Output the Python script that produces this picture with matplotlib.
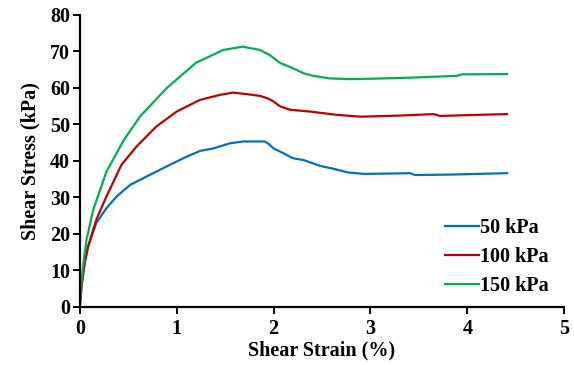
import matplotlib
matplotlib.use("Agg")
import matplotlib.pyplot as plt

# Shear strain (%) and shear stress (kPa)
strain_50 = [0, 0.02, 0.05, 0.086, 0.17, 0.275, 0.38, 0.52, 0.69, 0.93, 1.1, 1.24, 1.38, 1.55, 1.69, 1.8, 1.91,
             1.95, 2.0, 2.1, 2.2, 2.31, 2.48, 2.62, 2.77, 2.93, 3.2, 3.41, 3.46, 3.8, 4.1, 4.41]
stress_50 = [0, 6, 12, 16.5, 22.9, 27, 30.2, 33.4, 35.7, 38.9, 41.1, 42.7, 43.4, 44.8, 45.3, 45.3, 45.3,
             44.6, 43.4, 42.1, 40.7, 40.2, 38.6, 37.8, 36.8, 36.4, 36.5, 36.6, 36.1, 36.2, 36.4, 36.6]

strain_100 = [0, 0.02, 0.05, 0.086, 0.17, 0.275, 0.43, 0.585, 0.79, 1.0, 1.24, 1.45, 1.58, 1.72, 1.86, 1.93,
              1.98, 2.07, 2.17, 2.38, 2.65, 2.9, 3.3, 3.65, 3.72, 4.1, 4.41]
stress_100 = [0, 6, 12, 16.5, 23.8, 30.2, 38.9, 43.9, 49.4, 53.5, 56.7, 58.1, 58.7, 58.3, 57.8, 57.2,
              56.6, 54.9, 54.0, 53.5, 52.6, 52.1, 52.4, 52.8, 52.3, 52.6, 52.8]

strain_150 = [0, 0.017, 0.04, 0.069, 0.138, 0.275, 0.45, 0.62, 0.895, 1.2, 1.48, 1.68, 1.86, 1.96, 2.07,
              2.2, 2.31, 2.41, 2.58, 2.79, 3.0, 3.41, 3.89, 3.94, 4.41]
stress_150 = [0, 6.5, 12.5, 18.3, 26.5, 37, 45.5, 52.1, 59.9, 66.9, 70.4, 71.3, 70.4, 69, 66.8,
              65.4, 64, 63.3, 62.6, 62.4, 62.5, 62.8, 63.3, 63.7, 63.8]

labels = ["50 kPa", "100 kPa", "150 kPa"]
colors = ["#0070C0", "#C00000", "#00B050"]

plt.rcParams["font.family"] = ["Liberation Serif", "DejaVu Serif"]
plt.rcParams["font.weight"] = "bold"

fig = plt.figure(figsize=(5.74, 3.65), dpi=100)
ax = fig.add_axes([0.139, 0.160, 0.844, 0.799])

ax.plot(strain_50, stress_50, color=colors[0], lw=1.6, label=labels[0])
ax.plot(strain_100, stress_100, color=colors[1], lw=1.6, label=labels[1])
ax.plot(strain_150, stress_150, color=colors[2], lw=1.6, label=labels[2])

ax.set_xlim(0, 5)
ax.set_ylim(0, 80)
ax.set_xticks(range(0, 6))
ax.set_yticks(range(0, 81, 10))

for s in ["top", "right"]:
    ax.spines[s].set_visible(False)
for s in ["left", "bottom"]:
    ax.spines[s].set_linewidth(1.6)
    ax.spines[s].set_color("black")
ax.tick_params(direction="out", length=5, width=1.4, labelsize=14.5)
ax.tick_params(axis="y", pad=2)
ax.tick_params(axis="x", pad=4)
for t in ax.get_xticklabels() + ax.get_yticklabels():
    t.set_fontweight("bold")

ax.set_xlabel("Shear Strain (%)", fontsize=14.5, fontweight="bold", labelpad=1)
ax.set_ylabel("Shear Stress (kPa)", fontsize=14.5, fontweight="bold", labelpad=7)

leg = ax.legend(loc="lower right", bbox_to_anchor=(1.005, -0.025), frameon=False,
                prop={"size": 14.5, "weight": "bold"}, handlelength=1.7, handletextpad=0.05,
                labelspacing=0.45)

fig.savefig("out.png", dpi=100)
